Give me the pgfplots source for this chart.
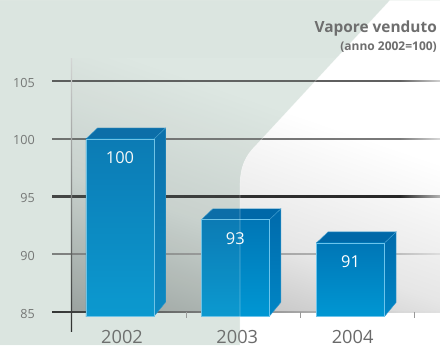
\documentclass[border=0pt]{standalone}
\usepackage{fontspec}
\setmainfont{Open Sans}
\usepackage{pgfplots}
\pgfplotsset{compat=1.18}
\usepackage{pgfplotstable}

% palette
\definecolor{bggreen}{HTML}{E1E9E5}
\definecolor{walltopg}{HTML}{E3EBE7}
\definecolor{wallmidg}{HTML}{CDD4D1}
\definecolor{wallbotg}{HTML}{9BA19F}
\definecolor{wallmidw}{HTML}{E6E6E6}
\definecolor{wallbotw}{HTML}{ABABAB}
\definecolor{tint}{HTML}{9DBBAA}
\definecolor{frontTop}{HTML}{0076B6}
\definecolor{frontBot}{HTML}{0097D3}
\definecolor{sideTop}{HTML}{006AAB}
\definecolor{sideBot}{HTML}{0086C5}
\definecolor{topFace}{HTML}{0068A8}
\definecolor{edge}{HTML}{6CC4EC}
\definecolor{titlegrey}{HTML}{6E6E6E}
\definecolor{tickgrey}{HTML}{727272}
\definecolor{labelgrey}{HTML}{6A6A6A}

% back wall gradients: dark at the base, fading out upwards
\pgfdeclareverticalshading{wallG}{490bp}{color(0bp)=(wallbotg); color(130bp)=(wallmidg);
  color(260bp)=(walltopg); color(390bp)=(walltopg)}
\pgfdeclareverticalshading{wallW}{490bp}{color(0bp)=(wallbotw); color(130bp)=(wallmidw);
  color(260bp)=(white); color(390bp)=(white)}

% sold steam, index 2002 = 100
\pgfplotstableread{
x val
0 100
1 93
2 91
}\steam

% one grid line: y, colour at left, at x=400, at right end, thickness
\newcommand{\gridline}[5]{%
  \fill[left color=#2, right color=#3] (52,#1-#5/2) rectangle (400,#1+#5/2);
  \fill[left color=#3, right color=#4] (400,#1-#5/2) rectangle (440,#1+#5/2);
}
% back wall gradient, tilted so it runs from the lower left corner towards the upper right
\newcommand{\wallshade}[1]{%
  \begin{scope}[shift={(71.5,33.3)}, rotate=-19]
    \node[anchor=south west, inner sep=0pt, outer sep=0pt, transform shape] at (-110,0)
      {\pgfuseshading{#1}};
  \end{scope}
}
\newcommand{\greenpanel}{(0,0) -- (240,0) -- (240,158) .. controls (240,180) and (246,190) .. (256,200)
       -- (390,345) -- (0,345) -- cycle}
\newcommand{\whitesweep}{(240,0) -- (440,0) -- (440,345) -- (390,345) -- (256,200)
       .. controls (246,190) and (240,180) .. (240,158) -- cycle}

\begin{document}
\begin{tikzpicture}
\begin{scope}[x=1pt,y=1pt]
  % background: green panel with a white sweep on the right
  \fill[bggreen] (0,0) rectangle (440,345);
  \fill[white] \whitesweep;
  % back wall, darker towards the lower left
  \begin{scope}
    \clip \greenpanel;
    \clip (71.5,33.3) rectangle (440,287);
    \wallshade{wallG}
  \end{scope}
  \begin{scope}
    \clip \whitesweep;
    \clip (71.5,33.3) rectangle (440,287);
    \wallshade{wallW}
  \end{scope}
  % horizontal grid
  \gridline{264.1}{black!66}{black!62}{black!18}{1.2}
  \gridline{206.4}{black!58}{black!52}{black!15}{1.2}
  \gridline{148.9}{black!76}{black!85}{black!30}{1.2}
  \gridline{91.05}{black!52}{black!25}{black!13}{1.2}
  \gridline{33.3}{black!83}{black!15}{black!12}{1.8}
  % vertical axis line
  \shade[bottom color=black!85, top color=black!15] (70.85,14) rectangle (72.15,287);
  % separators on the base line
  \foreach \tx in {186,300,414} \draw[black!40, line width=0.9pt] (\tx,33.3) -- (\tx,27);
\end{scope}

\begin{axis}[
  at={(0pt,0pt)}, anchor=south west,
  scale only axis, width=440pt, height=345pt,
  xmin=-1.04076, xmax=2.77537, ymin=82.1144, ymax=112.0104,
  axis line style={draw=none}, tick style={draw=none}, major tick length=0pt,
  xtick={0,1,2}, xticklabels={2002,2003,2004},
  ytick={85,90,95,100,105},
  xticklabel style={anchor=base, yshift=2pt, xshift=2pt, text=labelgrey,
    font=\fontsize{18.2}{20}\selectfont},
  yticklabel style={anchor=east, inner sep=0pt, xshift=35pt, yshift=-1.5pt, text=tickgrey,
    font=\fontsize{12.6}{14}\selectfont},
  /pgf/number format/assume math mode=true,
  clip=false,
]
% 2002
\addplot[draw=edge!50!sideTop, line width=0.4pt, top color=sideTop, bottom color=sideBot]
  coordinates {(0.295,84.63) (0.295,100) (0.395,100.95) (0.395,85.84)} -- cycle;
\addplot[draw=edge!60!topFace, line width=0.4pt, fill=topFace]
  coordinates {(-0.295,100) (0.295,100) (0.395,100.95) (-0.195,100.95)} -- cycle;
\addplot[draw=edge, line width=0.6pt, top color=frontTop, bottom color=frontBot]
  coordinates {(-0.295,84.63) (-0.295,100) (0.295,100) (0.295,84.63)} -- cycle;
% 2003
\addplot[draw=edge!50!sideTop, line width=0.4pt, top color=sideTop, bottom color=sideBot]
  coordinates {(1.295,84.63) (1.295,93) (1.395,93.95) (1.395,85.84)} -- cycle;
\addplot[draw=edge!60!topFace, line width=0.4pt, fill=topFace]
  coordinates {(0.705,93) (1.295,93) (1.395,93.95) (0.805,93.95)} -- cycle;
\addplot[draw=edge, line width=0.6pt, top color=frontTop, bottom color=frontBot]
  coordinates {(0.705,84.63) (0.705,93) (1.295,93) (1.295,84.63)} -- cycle;
% 2004
\addplot[draw=edge!50!sideTop, line width=0.4pt, top color=sideTop, bottom color=sideBot]
  coordinates {(2.295,84.63) (2.295,91) (2.395,91.95) (2.395,85.84)} -- cycle;
\addplot[draw=edge!60!topFace, line width=0.4pt, fill=topFace]
  coordinates {(1.705,91) (2.295,91) (2.395,91.95) (1.805,91.95)} -- cycle;
\addplot[draw=edge, line width=0.6pt, top color=frontTop, bottom color=frontBot]
  coordinates {(1.705,84.63) (1.705,91) (2.295,91) (2.295,84.63)} -- cycle;
% values printed inside the bars
\addplot[draw=none, mark=none, nodes near coords,
  every node near coord/.append style={anchor=center, yshift=-19pt, text=white,
    font=\fontsize{16.4}{18}\selectfont}]
  table[x=x, y=val] {\steam};
\end{axis}

\begin{scope}[x=1pt,y=1pt]
  % faint tint of the green panel over the plot
  \fill[tint, opacity=0.08] \greenpanel;
  \draw[white, opacity=0.35, line width=0.7pt] (240,0) -- (240,158)
     .. controls (240,180) and (246,190) .. (256,200) -- (390,345);
  % heading
  \node[anchor=base east, inner sep=0pt, text=titlegrey, font=\bfseries\fontsize{15.4}{17}\selectfont]
    at (437,313.3) {Vapore venduto};
  \node[anchor=base east, inner sep=0pt, text=titlegrey, font=\bfseries\fontsize{12}{14}\selectfont]
    at (437,295) {(anno 2002=100)};
\end{scope}
\end{tikzpicture}
\end{document}
